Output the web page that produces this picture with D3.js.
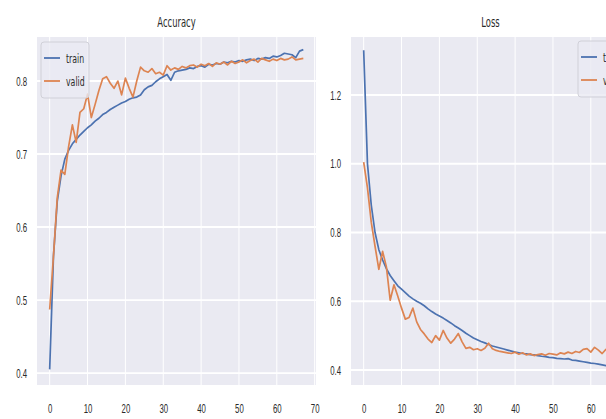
<!DOCTYPE html>
<html>
<head>
<meta charset="utf-8">
<script src="https://cdn.jsdelivr.net/npm/d3@7"></script>
<style>
  body { margin: 0; background: #fff; }
  svg { display: block; font-family: "DejaVu Sans", sans-serif; }
</style>
</head>
<body>
<svg id="chart" width="606" height="419"></svg>
<script>
const epochs = d3.range(68);

const trainAcc = [0.405, 0.56, 0.635, 0.67, 0.693, 0.705, 0.714, 0.72, 0.726, 0.731,
  0.736, 0.74, 0.745, 0.749, 0.754, 0.757, 0.761, 0.764, 0.767, 0.77,
  0.772, 0.775, 0.777, 0.778, 0.781, 0.788, 0.792, 0.794, 0.799, 0.803,
  0.806, 0.809, 0.801, 0.812, 0.814, 0.815, 0.816, 0.818, 0.817, 0.82,
  0.821, 0.819, 0.823, 0.822, 0.824, 0.823, 0.826, 0.825, 0.827, 0.826,
  0.828, 0.827, 0.829, 0.83, 0.828, 0.831, 0.83, 0.832, 0.831, 0.834,
  0.833, 0.835, 0.838, 0.837, 0.836, 0.832, 0.841, 0.843];

const validAcc = [0.487, 0.56, 0.64, 0.678, 0.672, 0.71, 0.74, 0.716, 0.757, 0.762,
  0.782, 0.75, 0.768, 0.787, 0.803, 0.806, 0.797, 0.79, 0.8, 0.781,
  0.804, 0.79, 0.778, 0.8, 0.819, 0.814, 0.812, 0.817, 0.81, 0.812,
  0.808, 0.821, 0.815, 0.818, 0.816, 0.82, 0.818, 0.821, 0.822, 0.819,
  0.823, 0.821, 0.824, 0.82, 0.825, 0.823, 0.826, 0.822, 0.827, 0.824,
  0.826, 0.829, 0.825, 0.828, 0.83, 0.826, 0.831, 0.829, 0.827, 0.83,
  0.828, 0.831, 0.829, 0.83, 0.833, 0.829, 0.83, 0.831];

const trainLoss = [1.33, 1.0, 0.88, 0.8, 0.75, 0.72, 0.695, 0.675, 0.66, 0.645,
  0.635, 0.625, 0.615, 0.607, 0.6, 0.594, 0.587, 0.578, 0.57, 0.563,
  0.557, 0.551, 0.544, 0.537, 0.529, 0.522, 0.515, 0.507, 0.5, 0.493,
  0.488, 0.483, 0.479, 0.474, 0.47, 0.467, 0.464, 0.461, 0.458, 0.455,
  0.452, 0.45, 0.448, 0.447, 0.445, 0.444, 0.442, 0.44, 0.439, 0.437,
  0.436, 0.434, 0.433, 0.432, 0.433, 0.429, 0.428, 0.426, 0.424, 0.422,
  0.42, 0.419, 0.417, 0.415, 0.413, 0.411, 0.409, 0.407];

const validLoss = [1.005, 0.93, 0.83, 0.76, 0.693, 0.745, 0.7, 0.603, 0.648, 0.615,
  0.58, 0.548, 0.553, 0.58, 0.54, 0.518, 0.505, 0.49, 0.48, 0.5,
  0.487, 0.515, 0.493, 0.478, 0.49, 0.506, 0.482, 0.463, 0.466, 0.459,
  0.462, 0.457, 0.463, 0.478, 0.462, 0.457, 0.454, 0.452, 0.45, 0.448,
  0.452, 0.446, 0.45, 0.444, 0.447, 0.442, 0.445, 0.447, 0.443, 0.448,
  0.446, 0.444, 0.45, 0.447, 0.452, 0.448, 0.454, 0.451, 0.46, 0.462,
  0.452, 0.466, 0.458, 0.448, 0.46, 0.455, 0.452, 0.45];

const accXTicks = [0, 10, 20, 30, 40, 50, 60, 70];
const lossXTicks = [0, 10, 20, 30, 40, 50, 60];
const accTicks = [0.4, 0.5, 0.6, 0.7, 0.8];
const lossTicks = [0.4, 0.6, 0.8, 1.0, 1.2];
const seriesNames = ["train", "valid"];

const colors = { train: "#4c72b0", valid: "#dd8452" };
const squeeze = 0.6; // text in the picture is narrow
const plotTop = 37, plotBottom = 385;

const svg = d3.select("#chart");

function drawPanel(opt) {
    const x = d3.scaleLinear().domain([-3.35, 70.35]).range([opt.left, opt.right]);
    const y = d3.scaleLinear().domain(opt.yDomain).range([plotBottom, plotTop]);
    const g = svg.append("g");

    g.append("rect")
        .attr("x", opt.left).attr("y", plotTop)
        .attr("width", opt.right - opt.left).attr("height", plotBottom - plotTop)
        .attr("fill", "#eaeaf2");

    // grid
    g.selectAll(".vgrid").data(opt.xTicks).join("line")
        .attr("x1", d => x(d)).attr("x2", d => x(d))
        .attr("y1", plotTop).attr("y2", plotBottom)
        .attr("stroke", "#fff").attr("stroke-width", 1);
    g.selectAll(".hgrid").data(opt.yTicks).join("line")
        .attr("x1", opt.left).attr("x2", opt.right)
        .attr("y1", d => y(d)).attr("y2", d => y(d))
        .attr("stroke", "#fff").attr("stroke-width", 1.8);

    const clipId = "clip-" + opt.name;
    svg.append("clipPath").attr("id", clipId).append("rect")
        .attr("x", opt.left).attr("y", plotTop)
        .attr("width", opt.right - opt.left).attr("height", plotBottom - plotTop);

    const line = d3.line().x((d, i) => x(epochs[i])).y(d => y(d));
    opt.series.forEach((s, k) => {
        g.append("path")
            .datum(s)
            .attr("clip-path", `url(#${clipId})`)
            .attr("fill", "none")
            .attr("stroke", colors[seriesNames[k]])
            .attr("stroke-width", 1.7)
            .attr("stroke-linejoin", "round")
            .attr("d", line);
    });

    // axes
    const xAxis = g.append("g")
        .attr("transform", `translate(0,${plotBottom})`)
        .call(d3.axisBottom(x).tickValues(opt.xTicks).tickSize(0).tickPadding(19).tickFormat(d3.format("d")));
    const yAxis = g.append("g")
        .attr("transform", `translate(${opt.left},0)`)
        .call(d3.axisLeft(y).tickValues(opt.yTicks).tickSize(0).tickFormat(d3.format(".1f")));
    [xAxis, yAxis].forEach(a => {
        a.select(".domain").remove();
        a.selectAll("text").attr("fill", "#2a2a2a").attr("font-size", 13).attr("font-family", null);
    });
    xAxis.selectAll("text").attr("transform", `scale(${squeeze},1)`);
    yAxis.selectAll("text").attr("x", 0).attr("transform", `translate(-10,0) scale(${squeeze},1)`);

    g.append("text")
        .attr("transform", `translate(${(opt.left + opt.right) / 2},27) scale(${squeeze},1)`)
        .attr("text-anchor", "middle")
        .attr("font-size", 14)
        .attr("fill", "#2a2a2a")
        .text(opt.title);

    // legend
    const lg = g.append("g").attr("transform", `translate(${opt.legendX},${opt.legendY})`);
    lg.append("rect")
        .attr("width", 48).attr("height", 56).attr("rx", 3)
        .attr("fill", "#eaeaf2").attr("fill-opacity", 0.8)
        .attr("stroke", "#d0d0d8");
    seriesNames.forEach((n, k) => {
        const yy = 16 + k * 23;
        lg.append("line")
            .attr("x1", 3).attr("x2", 19).attr("y1", yy).attr("y2", yy)
            .attr("stroke", colors[n]).attr("stroke-width", 1.8);
        lg.append("text")
            .attr("transform", `translate(25,${yy}) scale(${squeeze},1)`)
            .attr("dy", "0.35em")
            .attr("font-size", 13)
            .attr("fill", "#2a2a2a")
            .text(n);
    });
}

drawPanel({
    name: "acc", title: "Accuracy", left: 37, right: 316,
    xTicks: accXTicks, yDomain: [0.3836, 0.8603], yTicks: accTicks,
    series: [trainAcc, validAcc], legendX: 41, legendY: 42
});

drawPanel({
    name: "loss", title: "Loss", left: 351, right: 630,
    xTicks: lossXTicks, yDomain: [0.3564, 1.3687], yTicks: lossTicks,
    series: [trainLoss, validLoss], legendX: 578, legendY: 41
});
</script>
</body>
</html>
